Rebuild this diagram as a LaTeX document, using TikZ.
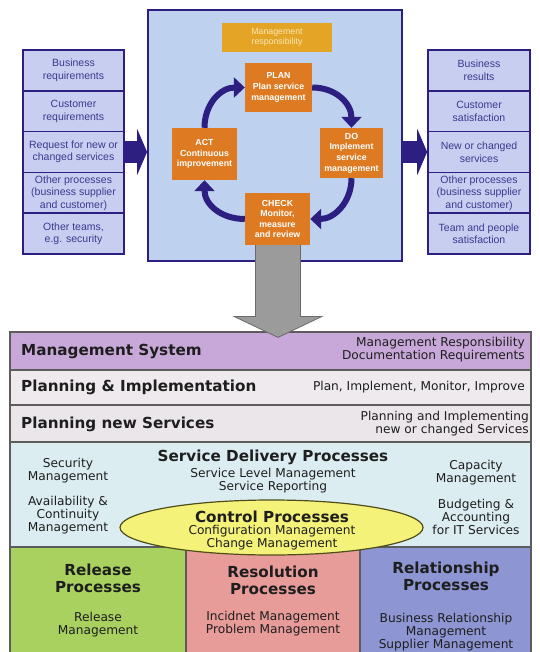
\documentclass[tikz,border=0pt]{standalone}
\usepackage{fontspec}
\setmainfont{Liberation Sans}
\newfontfamily\bandfont{DejaVu Sans}
\usetikzlibrary{arrows.meta,calc,shapes.geometric}

\definecolor{navy}{HTML}{2D1E82}
\definecolor{cellfill}{HTML}{C8CEF0}
\definecolor{celltext}{HTML}{3B3890}
\definecolor{mainfill}{HTML}{BED1EF}
\definecolor{orangebox}{HTML}{DE7B22}
\definecolor{goldbox}{HTML}{E4A526}
\definecolor{goldtext}{HTML}{FAE7B4}
\definecolor{arrowgray}{HTML}{9B9B9B}
\definecolor{arrowedge}{HTML}{6A6A6A}
\definecolor{msfill}{HTML}{C8A8D8}
\definecolor{pifill}{HTML}{EEEAED}
\definecolor{pnsfill}{HTML}{EBE6EA}
\definecolor{sdfill}{HTML}{DCEDF2}
\definecolor{ellfill}{HTML}{F5F27A}
\definecolor{ellline}{HTML}{4E4E1A}
\definecolor{releasefill}{HTML}{A9D160}
\definecolor{resolvefill}{HTML}{E89C9A}
\definecolor{relationfill}{HTML}{8D95D2}
\definecolor{bandline}{HTML}{5C5C5C}
\definecolor{bandtext}{HTML}{1E1E1E}

\tikzset{
  cell/.style={draw=navy, line width=1.6pt, fill=cellfill, minimum width=101pt,
    minimum height=40.8pt, inner sep=1pt, align=center, text=celltext,
    font=\fontsize{10.5}{12.5}\selectfont},
  pdca/.style={fill=orangebox, text=white, inner sep=1pt, align=center,
    font=\bfseries\fontsize{8.8}{10.6}\selectfont},
  cyclearrow/.style={draw=navy, line width=6pt, -{Triangle[length=11pt,width=20pt]}},
  blockarrow/.style={draw=navy, line width=22pt, -{Triangle[length=10pt,width=46pt]}},
  band/.style={draw=bandline, line width=1.2pt, inner sep=0pt},
  headtext/.style={text=bandtext, align=center, inner sep=0pt,
    font=\bandfont\bfseries\fontsize{15.2}{17}\selectfont},
  subtext/.style={text=bandtext, align=center, inner sep=0pt,
    font=\bandfont\fontsize{12.2}{13}\selectfont},
}

\begin{document}
\begin{tikzpicture}[x=1pt,y=-1pt]
\useasboundingbox (0,0) rectangle (539,652);

% inputs column
\node[cell] (lc1) at (73.5,70.4)  {Business\\requirements};
\node[cell] (lc2) at (73.5,111.2) {Customer\\requirements};
\node[cell] (lc3) at (73.5,152)   {Request for new or\\changed services};
\node[cell] (lc4) at (73.5,192.8) {Other processes\\(business supplier\\and customer)};
\node[cell] (lc5) at (73.5,233.6) {Other teams,\\e.g. security};

% outputs column
\node[cell, minimum width=102pt] (rc1) at (479,70.4)  {Business\\results};
\node[cell, minimum width=102pt] (rc2) at (479,111.2) {Customer\\satisfaction};
\node[cell, minimum width=102pt] (rc3) at (479,152)   {New or changed\\services};
\node[cell, minimum width=102pt] (rc4) at (479,192.8) {Other processes\\(business supplier\\and customer)};
\node[cell, minimum width=102pt] (rc5) at (479,233.6) {Team and people\\satisfaction};

% PDCA frame
\node[draw=navy, line width=1.8pt, fill=mainfill, minimum width=254pt,
      minimum height=251pt, inner sep=0pt] (main) at (275,135.5) {};
\node[fill=goldbox, text=goldtext, minimum width=110pt, minimum height=29pt,
      inner sep=0pt, align=center, font=\fontsize{8.8}{10.2}\selectfont]
      (mr) at (277,37.5) {Management\\responsibility};

% process layers
\node[band, fill=msfill,  minimum width=521pt, minimum height=38pt]  (ms)  at (270.5,351) {};
\node[band, fill=pifill,  minimum width=521pt, minimum height=35pt]  (pi)  at (270.5,387.5) {};
\node[band, fill=pnsfill, minimum width=521pt, minimum height=37pt]  (pns) at (270.5,423.5) {};
\node[band, fill=sdfill,  minimum width=521pt, minimum height=105pt] (sd)  at (270.5,494.5) {};
\node[band, fill=releasefill,  minimum width=176pt, minimum height=113pt] (rel) at (98,603.5) {};
\node[band, fill=resolvefill,  minimum width=174pt, minimum height=113pt] (res) at (273,603.5) {};
\node[band, fill=relationfill, minimum width=171pt, minimum height=113pt] (rsh) at (445.5,603.5) {};

% PDCA steps
\node[pdca, minimum width=67pt, minimum height=49pt] (plan)  at (278.5,87.5) {PLAN\\Plan service\\management};
\node[pdca, minimum width=63pt, minimum height=50pt] (do)    at (351.5,153)  {DO\\Implement\\service\\management};
\node[pdca, minimum width=65pt, minimum height=52pt] (act)   at (204.5,154)  {ACT\\Continuous\\improvement};

% hand-over arrow into the process layers
\coordinate (gtop) at ($(278,240)$);
\coordinate (gtip) at ($(gtop |- ms.north)+(0,6)$);
\draw[fill=arrowgray, draw=arrowedge, line width=0.8pt]
  ($(gtop)+(-22.5,0)$) -- ($(gtip)+(-22.5,-21)$) -- ($(gtip)+(-44,-21)$) -- (gtip)
  -- ($(gtip)+(44,-21)$) -- ($(gtip)+(22.5,-21)$) -- ($(gtop)+(22.5,0)$) -- cycle;

\node[pdca, minimum width=65pt, minimum height=52pt] (check) at (277.5,219)  {CHECK\\Monitor,\\measure\\and review};

% PDCA cycle
\draw[cyclearrow] (plan.east) .. controls ($(plan.east)+(24,0)$) and ($(do.north)+(0,-24)$) .. (do.north);
\draw[cyclearrow] (do.south) .. controls ($(do.south)+(0,24)$) and ($(check.east)+(24,0)$) .. (check.east);
\draw[cyclearrow] (check.west) .. controls ($(check.west)+(-24,0)$) and ($(act.south)+(0,24)$) .. (act.south);
\draw[cyclearrow] (act.north) .. controls ($(act.north)+(0,-24)$) and ($(plan.west)+(-24,0)$) .. (plan.west);

% inputs and outputs
\draw[blockarrow] (lc3.east) -- (lc3.east -| main.west);
\draw[blockarrow] (main.east |- rc3.west) -- (rc3.west);

% layer texts
\node[headtext, anchor=west] (mst) at (21,351) {Management System};
\node[subtext, anchor=east, align=right] (msr) at (525,350) {Management Responsibility\\Documentation Requirements};
\node[headtext, anchor=west] (pit) at (21,387.5) {Planning \& Implementation};
\node[subtext, anchor=east, align=right] (pir) at (525,387.5) {Plan, Implement, Monitor, Improve};
\node[headtext, anchor=west] (pnst) at (21,424) {Planning new Services};
\node[subtext, anchor=east, align=right] (pnsr) at (529,423.5) {Planning and Implementing\\new or changed Services};

\node[headtext] (sdt) at (273,457) {Service Delivery Processes};
\node[subtext] (sdc) at (273,481) {Service Level Management\\Service Reporting};
\node[subtext] (sdl1) at (68,471) {Security\\Management};
\node[subtext] (sdl2) at (68,515) {Availability \&\\Continuity\\Management};
\node[subtext] (sdr1) at (476,473) {Capacity\\Management};
\node[subtext] (sdr2) at (476,517) {Budgeting \&\\Accounting\\for IT Services};

% control processes
\node[ellipse, draw=ellline, line width=1.2pt, fill=ellfill, minimum width=303pt,
      minimum height=55pt, inner sep=0pt] (ctl) at (271.5,527.5) {};
\node[headtext] (ctlt) at (272,517) {Control Processes};
\node[subtext] (ctls) at (272,538) {Configuration Management\\Change Management};

\node[headtext] (relt) at (98,578.5) {Release\\Processes};
\node[subtext] (rels) at (98,625) {Release\\Management};
\node[headtext] (rest) at (273,580) {Resolution\\Processes};
\node[subtext] (ress) at (273,624) {Incidnet Management\\Problem Management};
\node[headtext] (rsht) at (446,576) {Relationship\\Processes};
\node[subtext] (rshs) at (446,632) {Business Relationship\\Management\\Supplier Management};
\end{tikzpicture}
\end{document}
